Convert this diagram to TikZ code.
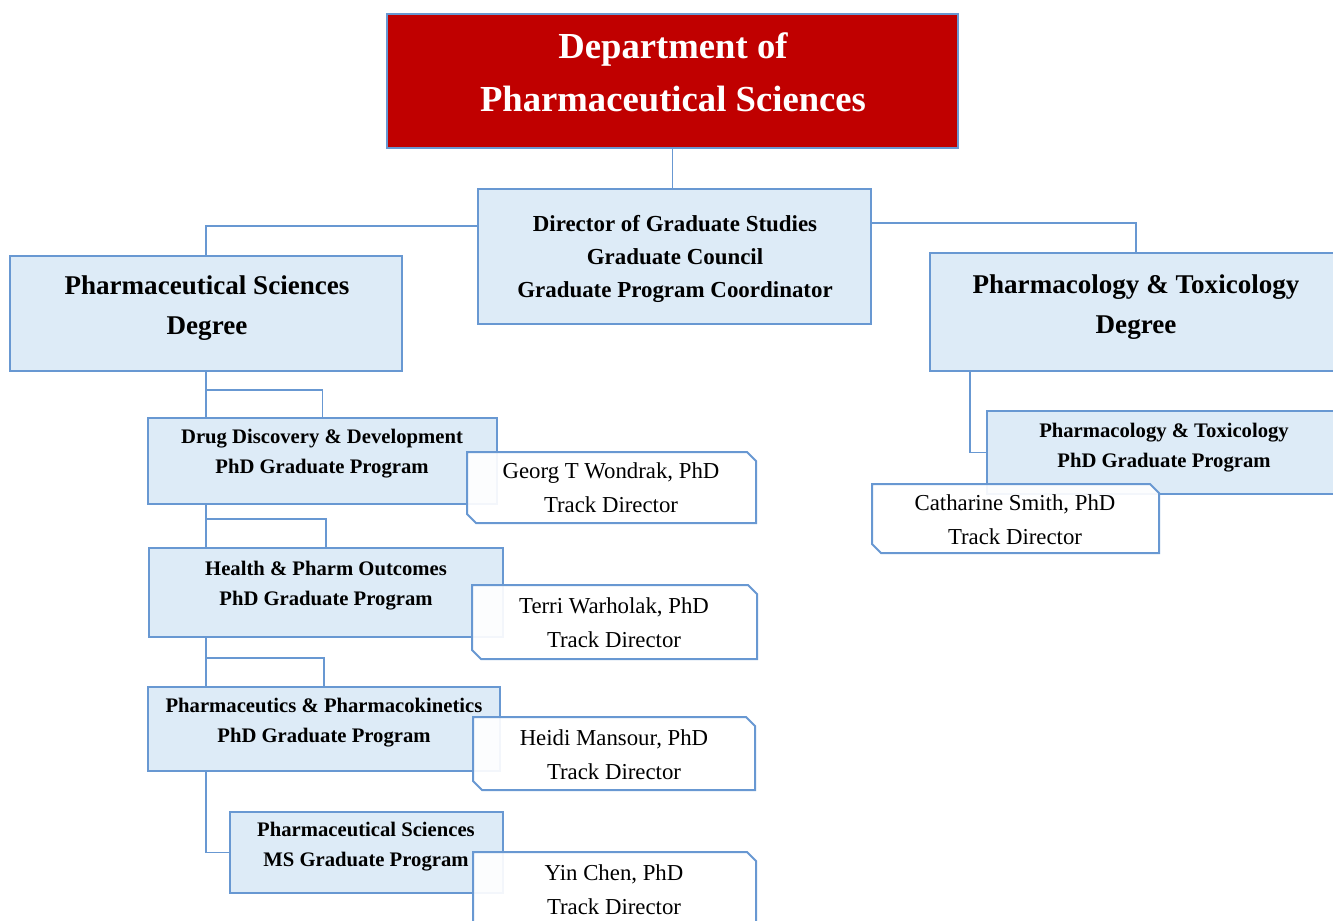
\documentclass[tikz,border=0pt]{standalone}
\usepackage{fontspec}
\setmainfont{Liberation Serif}
\usetikzlibrary{fit}
\definecolor{boxfill}{RGB}{221,235,247}
\definecolor{boxline}{RGB}{104,152,210}
\definecolor{deptred}{RGB}{192,0,0}
\begin{document}
\begin{tikzpicture}[x=0.75pt,y=-0.75pt,
  box/.style={draw=boxline, line width=1.5pt, fill=boxfill, inner sep=0pt},
  redbox/.style={draw=boxline, line width=1.5pt, fill=deptred, inner sep=0pt},
  conn/.style={draw=boxline, line width=1.1pt},
  trackshape/.style={draw=boxline, line width=1.5pt, fill=white, fill opacity=0.92},
  lbl/.style={inner sep=0pt, align=center},
  titlef/.style={lbl, text=white, font=\fontsize{27.5}{39.75}\selectfont\bfseries},
  dirf/.style={lbl, font=\fontsize{17.2}{24.75}\selectfont\bfseries},
  degf/.style={lbl, font=\fontsize{20.3}{30}\selectfont\bfseries},
  progf/.style={lbl, font=\fontsize{15.5}{22.5}\selectfont\bfseries},
  trackf/.style={lbl, font=\fontsize{17.1}{25.5}\selectfont}
]
\clip (0,0) rectangle (1333,920);
\fill[white] (0,0) rectangle (1333,920);

% boxes
\node[redbox, fit={(387,14) (958,148)}] (dept) {};
\node[box, fit={(478,189) (871,324)}] (dir) {};
\node[box, fit={(10,256) (402,371)}] (psd) {};
\node[box, fit={(930,253) (1342,371)}] (ptd) {};
\node[box, fit={(148,418) (497,504)}] (ddd) {};
\node[box, fit={(149,548) (503,637)}] (hpo) {};
\node[box, fit={(148,687) (500,771)}] (pp) {};
\node[box, fit={(230,812) (503,893)}] (ms) {};
\node[box, fit={(987,411) (1342,494)}] (ptphd) {};

% connectors
\draw[conn] (dept.south) -- (dept.south |- dir.north);
\draw[conn] (dir.north west) ++(0,38) -| (psd.north);
\draw[conn] (dir.north east) ++(0,35) -| (ptd.north);
\draw[conn] (psd.south) -- (psd.south |- ddd.north);
\draw[conn] (psd.south) ++(0,18) -| (ddd.north);
\draw[conn] (psd.south |- ddd.south) -- (psd.south |- hpo.north);
\draw[conn] (psd.south |- ddd.south) ++(0,14) -| (hpo.north);
\draw[conn] (psd.south |- hpo.south) -- (psd.south |- pp.north);
\draw[conn] (psd.south |- hpo.south) ++(0,20) -| (pp.north);
\draw[conn] (psd.south |- pp.south) |- (ms.west);
\draw[conn] (ptd.south west) ++(41,0) |- (ptphd.west);

% texts
\node[titlef] (deptt) at (673,72.5) {Department of\\Pharmaceutical Sciences};
\node[dirf] (dirt) at (675,259) {Director of Graduate Studies\\Graduate Council\\Graduate Program Coordinator};
\node[degf] (psdt) at (207,308) {Pharmaceutical Sciences\\Degree};
\node[degf] (ptdt) at (1136,307) {Pharmacology \& Toxicology\\Degree};
\node[progf] (dddt) at (322,454) {Drug Discovery \& Development\\PhD Graduate Program};
\node[progf] (hpot) at (326,586) {Health \& Pharm Outcomes\\PhD Graduate Program};
\node[progf] (ppt) at (324,722.5) {Pharmaceutics \& Pharmacokinetics\\PhD Graduate Program};
\node[progf] (mst) at (366,846.5) {Pharmaceutical Sciences\\MS Graduate Program};
\node[progf] (ptphdt) at (1164,448) {Pharmacology \& Toxicology\\PhD Graduate Program};

% track director boxes
\draw[trackshape] (467,452) -- (747,452) -- (756,461) -- (756,523) -- (476,523) -- (467,514) -- cycle;
\node[trackf] (georg) at (611,487.5) {Georg T Wondrak, PhD\\Track Director};
\draw[trackshape] (472,585) -- (748,585) -- (757,594) -- (757,659) -- (481,659) -- (472,650) -- cycle;
\node[trackf] (terri) at (614,622.5) {Terri Warholak, PhD\\Track Director};
\draw[trackshape] (473,717) -- (746,717) -- (755,726) -- (755,790) -- (482,790) -- (473,781) -- cycle;
\node[trackf] (heidi) at (614,754.5) {Heidi Mansour, PhD\\Track Director};
\draw[trackshape] (473,852) -- (747,852) -- (756,861) -- (756,935) -- (482,935) -- (473,926) -- cycle;
\node[trackf] (yin) at (614,889.5) {Yin Chen, PhD\\Track Director};
\draw[trackshape] (872,484) -- (1150,484) -- (1159,493) -- (1159,553) -- (881,553) -- (872,544) -- cycle;
\node[trackf] (cath) at (1015,519.5) {Catharine Smith, PhD\\Track Director};
\end{tikzpicture}
\end{document}
